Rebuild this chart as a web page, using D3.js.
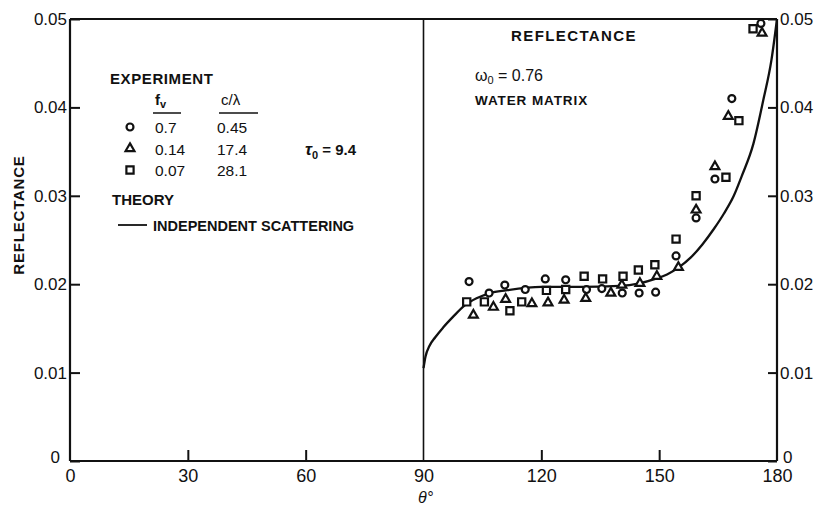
<!DOCTYPE html>
<html>
<head>
<meta charset="utf-8">
<script src="https://cdn.jsdelivr.net/npm/d3@7"></script>
<style>
  html, body { margin: 0; padding: 0; background: #fff; }
  svg { display: block; }
  text { font-family: "Liberation Sans", Arial, sans-serif; fill: #111; }
</style>
</head>
<body>
<svg id="chart" width="816" height="505"></svg>
<script>
// Scattering angle (deg) and reflectance, experiment series
const circleAngle   = [101.6, 106.7, 110.7, 115.9, 121.0, 126.2, 131.5, 135.4, 140.6, 144.9, 149.1, 154.3, 159.4, 164.2, 168.5, 175.9];
const circleRefl    = [0.0203, 0.0190, 0.0199, 0.0194, 0.0206, 0.0205, 0.0194, 0.0195, 0.0190, 0.0190, 0.0191, 0.0232, 0.0275, 0.0319, 0.0410, 0.0495];
const triangleAngle = [102.7, 107.8, 110.9, 117.6, 121.7, 125.8, 131.3, 137.7, 140.5, 145.1, 149.4, 154.9, 159.4, 164.2, 167.6, 176.2];
const triangleRefl  = [0.0165, 0.0174, 0.0183, 0.0178, 0.0179, 0.0182, 0.0184, 0.0190, 0.0199, 0.0201, 0.0209, 0.0219, 0.0284, 0.0333, 0.0390, 0.0484];
const squareAngle   = [101.0, 105.5, 112.0, 115.0, 121.3, 126.2, 130.9, 135.6, 140.8, 144.7, 148.9, 154.3, 159.4, 167.0, 170.3, 173.9];
const squareRefl    = [0.0180, 0.0180, 0.0170, 0.0180, 0.0193, 0.0194, 0.0209, 0.0206, 0.0209, 0.0216, 0.0222, 0.0251, 0.0300, 0.0321, 0.0385, 0.0489];

// Independent scattering theory
const theoryAngle = [90, 90.5, 91.5, 93, 95, 97.5, 100.5, 103.5, 107, 111, 120, 130, 140, 145, 149, 152, 155, 158, 161, 164, 166.5, 169, 171, 174, 176.5, 178.6, 180];
const theoryRefl  = [0.0105, 0.0118, 0.0130, 0.0140, 0.0151, 0.0163, 0.0176, 0.0184, 0.0190, 0.0193, 0.0197, 0.0197, 0.0198, 0.0201, 0.0206, 0.0211, 0.0219, 0.0230, 0.0245, 0.0263, 0.0280, 0.0300, 0.0322, 0.0359, 0.0408, 0.0454, 0.0500];

const xTicks = [0, 30, 60, 90, 120, 150, 180];
const yTicks = [0, 0.01, 0.02, 0.03, 0.04, 0.05];

// Legend table
const legendSymbols = ["circle", "triangle", "square"];
const legendFv      = ["0.7", "0.14", "0.07"];
const legendCL      = ["0.45", "17.4", "28.1"];

const svg = d3.select("#chart");
const x = d3.scaleLinear().domain([0, 180]).range([70, 777]);
const y = d3.scaleLinear().domain([0, 0.05]).range([461, 19]);

const symbolType = { circle: d3.symbolCircle, triangle: d3.symbolTriangle, square: d3.symbolSquare };
const symbolSize = { circle: 38, triangle: 34, square: 52 };
const sym = k => d3.symbol().type(symbolType[k]).size(symbolSize[k])();

const fmt = d => d === 0 ? "0" : d.toFixed(2);
const numFont = "Liberation Sans, Arial, sans-serif";

// Left axis, ticks pointing inward
const gL = svg.append("g").attr("transform", `translate(${x(0)},0)`)
  .call(d3.axisLeft(y).tickValues(yTicks).tickFormat(fmt).tickSize(-10).tickPadding(3));
// Right axis
const gR = svg.append("g").attr("transform", `translate(${x(180)},0)`)
  .call(d3.axisRight(y).tickValues(yTicks).tickFormat(fmt).tickSize(-9).tickPadding(3));
// Bottom axis
const gB = svg.append("g").attr("transform", `translate(0,${y(0)})`)
  .call(d3.axisBottom(x).tickValues(xTicks).tickSize(-11).tickPadding(8));
// Top frame
const gT = svg.append("g").attr("transform", `translate(0,${y(0.05)})`)
  .call(d3.axisTop(x).tickValues([]).tickSizeOuter(0));

[gL, gR, gB, gT].forEach(g => {
  g.select(".domain").attr("stroke", "#111").attr("stroke-width", 2.2);
  g.selectAll(".tick line").attr("stroke", "#111").attr("stroke-width", 2);
});
gL.selectAll(".tick text").attr("font-size", 17).style("font-family", numFont);
gR.selectAll(".tick text").attr("font-size", 17).style("font-family", numFont);
gB.selectAll(".tick text").attr("font-size", 18).style("font-family", numFont);
gL.select(".domain").attr("d", `M0,${y(0)}V${y(0.05)}`);
gR.select(".domain").attr("d", `M0,${y(0)}V${y(0.05)}`);
gB.select(".domain").attr("d", `M${x(0)},0H${x(180)}`);
gT.select(".domain").attr("d", `M${x(0)},0H${x(180)}`);
// zero labels sit at the corners
gL.selectAll(".tick").filter(d => d === 0).select("text").attr("x", -10).attr("dy", "0.1em");
gR.selectAll(".tick").filter(d => d === 0).select("text").attr("x", 6).attr("dy", "0.1em");
gB.selectAll(".tick").filter(d => d === 0 || d === 90 || d === 180).select("line").remove();

// Divider at 90 degrees
svg.append("line")
  .attr("x1", x(90)).attr("x2", x(90))
  .attr("y1", y(0)).attr("y2", y(0.05))
  .attr("stroke", "#111").attr("stroke-width", 1.6);

// Theory curve
const theory = theoryAngle.map((a, i) => [a, theoryRefl[i]]);
svg.append("path")
  .datum(theory)
  .attr("fill", "none").attr("stroke", "#111").attr("stroke-width", 2.3)
  .attr("d", d3.line().x(d => x(d[0])).y(d => y(d[1])).curve(d3.curveMonotoneX));

// Experimental points
const series = [
  { kind: "circle", a: circleAngle, r: circleRefl },
  { kind: "triangle", a: triangleAngle, r: triangleRefl },
  { kind: "square", a: squareAngle, r: squareRefl }
];
series.forEach(s => {
  svg.append("g").selectAll("path")
    .data(s.a.map((a, i) => [a, s.r[i]]))
    .join("path")
    .attr("d", sym(s.kind))
    .attr("transform", d => `translate(${x(d[0])},${y(d[1])})`)
    .attr("fill", "#fff").attr("stroke", "#111").attr("stroke-width", 2.2);
});

// Axis titles
svg.append("text")
  .attr("transform", "translate(24,215) rotate(-90)")
  .attr("text-anchor", "middle").attr("font-size", 15).attr("font-weight", "bold")
  .attr("letter-spacing", 0.8)
  .text("REFLECTANCE");
svg.append("text")
  .attr("x", x(90) + 2).attr("y", 503)
  .attr("text-anchor", "middle").attr("font-size", 16).attr("font-style", "italic")
  .text("θ°");

// Panel annotations
svg.append("text").attr("x", 574).attr("y", 41)
  .attr("text-anchor", "middle").attr("font-size", 15).attr("font-weight", "bold")
  .attr("letter-spacing", 1.4).text("REFLECTANCE");
const w = svg.append("text").attr("x", 475).attr("y", 81).attr("font-size", 16);
w.append("tspan").text("ω");
w.append("tspan").attr("font-size", 11).attr("dy", 3).text("0");
w.append("tspan").attr("dy", -3).text(" = 0.76");
svg.append("text").attr("x", 475).attr("y", 105)
  .attr("font-size", 13.5).attr("font-weight", "bold").attr("letter-spacing", 0.9)
  .text("WATER MATRIX");

// Legend
svg.append("text").attr("x", 110).attr("y", 84)
  .attr("font-size", 15).attr("font-weight", "bold").attr("letter-spacing", 0.6)
  .text("EXPERIMENT");
const fv = svg.append("text").attr("x", 155).attr("y", 105).attr("font-size", 15).attr("font-weight", "bold");
fv.append("tspan").text("f");
fv.append("tspan").attr("font-size", 11).attr("dy", 3).text("v");
svg.append("text").attr("x", 221).attr("y", 105).attr("font-size", 15).text("c/λ");
svg.append("line").attr("x1", 153).attr("x2", 181).attr("y1", 113).attr("y2", 113).attr("stroke", "#111").attr("stroke-width", 1.5);
svg.append("line").attr("x1", 219).attr("x2", 258).attr("y1", 113).attr("y2", 113).attr("stroke", "#111").attr("stroke-width", 1.5);

const rowY = [127, 148.5, 170];
legendSymbols.forEach((k, i) => {
  svg.append("path").attr("d", sym(k))
    .attr("transform", `translate(130,${rowY[i]})`)
    .attr("fill", "#fff").attr("stroke", "#111").attr("stroke-width", 2.2);
  svg.append("text").attr("x", 155).attr("y", rowY[i] + 6).attr("font-size", 15.5).text(legendFv[i]);
  svg.append("text").attr("x", 217).attr("y", rowY[i] + 6).attr("font-size", 15.5).text(legendCL[i]);
});

const tau = svg.append("text").attr("x", 305).attr("y", 155).attr("font-size", 15).attr("font-weight", "bold");
tau.append("tspan").attr("font-size", 17).attr("font-style", "italic").text("τ");
tau.append("tspan").attr("font-size", 11).attr("dy", 4).text("0");
tau.append("tspan").attr("dy", -4).text(" = 9.4");

svg.append("text").attr("x", 112).attr("y", 205)
  .attr("font-size", 15).attr("font-weight", "bold").text("THEORY");
svg.append("line").attr("x1", 118).attr("x2", 147).attr("y1", 225).attr("y2", 225)
  .attr("stroke", "#111").attr("stroke-width", 1.8);
svg.append("text").attr("x", 153).attr("y", 230.5)
  .attr("font-size", 14.5).attr("font-weight", "bold").text("INDEPENDENT SCATTERING");
</script>
</body>
</html>
